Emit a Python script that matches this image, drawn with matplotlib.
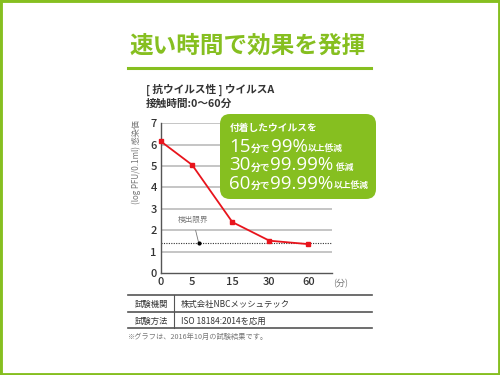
import matplotlib
matplotlib.use("Agg")
import matplotlib.pyplot as plt
from matplotlib.patches import FancyBboxPatch, Rectangle
from matplotlib.lines import Line2D

plt.rcParams['font.family'] = ['Noto Sans CJK JP', 'DejaVu Sans']

# ---- data ----
time_labels = ["0", "5", "15", "30", "60"]
log_titer = [6.15, 5.05, 2.38, 1.51, 1.35]
detection_limit = 1.38
y_ticks = [0, 1, 2, 3, 4, 5, 6, 7]
title = "速い時間で効果を発揮"
subtitle1 = "[ 抗ウイルス性 ] ウイルスA"
subtitle2 = "接触時間:0～60分"
ylabel = "(log PFU/0.1ml) 感染価"
unit_label = "(分)"
limit_label = "検出限界"
box_head = "付着したウイルスを"
box_lines = [
    [("15", 'big'), ("分で", 'mid'), ("99%", 'big'), ("以上低減", 'small')],
    [("30", 'big'), ("分で", 'mid'), ("99.99%", 'big'), (" 低減", 'small')],
    [("60", 'big'), ("分で", 'mid'), ("99.99%", 'big'), ("以上低減", 'small')],
]
table_rows = [("試験機関", "株式会社NBCメッシュテック"),
              ("試験方法", "ISO 18184:2014を応用")]
footnote = "※グラフは、2016年10月の試験結果です。"

# layout positions (category spacing)
x_pos = [0, 0.8, 1.83, 2.78, 3.78]

GREEN = '#86bf20'
RED = '#e8141c'
DARK = '#333333'

W, H = 500, 375
fig = plt.figure(figsize=(5, 3.75), dpi=100)


def fx(px):
    return px / W


def fy(py):
    return 1 - py / H


# frame
fig.patches.append(Rectangle((0, 0), 1, 1, transform=fig.transFigure,
                             fill=False, edgecolor=GREEN, linewidth=3.5))

# title
fig.text(fx(248), fy(46), title, fontsize=17, fontweight='bold', color=GREEN,
         ha='center', va='center')
fig.add_artist(Line2D([fx(128), fx(371)], [fy(68), fy(68)], color=GREEN,
                      linewidth=2.2, transform=fig.transFigure))

fig.text(fx(146), fy(90), subtitle1, fontsize=7.7, color=DARK, fontweight='bold',
         ha='left', va='center')
fig.text(fx(146), fy(104), subtitle2, fontsize=7.7, color=DARK, fontweight='bold',
         ha='left', va='center')

# axes
ax = fig.add_axes([fx(161), fy(273), fx(332) - fx(161), fy(123.3) - fy(273)])
ax.set_xlim(0, (332 - 161) / 39.0)
ax.set_ylim(0, 7)
for s in ['top', 'right']:
    ax.spines[s].set_visible(False)
ax.spines['left'].set_color('#555555')
ax.spines['bottom'].set_color('#555555')
ax.spines['left'].set_linewidth(1.0)
ax.spines['bottom'].set_linewidth(1.0)
ax.set_yticks(y_ticks)
ax.set_yticklabels([str(v) for v in y_ticks], fontsize=8, color=DARK,
                   fontweight='medium')
ax.set_xticks(x_pos)
ax.set_xticklabels(time_labels, fontsize=8, color=DARK, fontweight='medium')
ax.tick_params(length=0, pad=3)
for v in y_ticks[1:]:
    ax.axhline(v, color='#c0c0c0', linewidth=1.3, zorder=1)
ax.set_ylabel(ylabel, fontsize=5.8, color='#777777')
ax.yaxis.set_label_coords(-0.115, 0.74)
ax.text(1.05, -0.07, unit_label, transform=ax.transAxes, fontsize=6.5,
        color='#777777', ha='center', va='center')

# detection limit
ax.axhline(detection_limit, color='#333333', linewidth=0.8, linestyle=(0, (1, 1.2)),
           zorder=2)
ax.plot([0.97], [detection_limit], 'o', color='black', markersize=2, zorder=4)
ax.annotate(limit_label, xy=(0.97, detection_limit), xytext=(0.82, 2.5),
            fontsize=5.5, color='#777777', ha='center', va='center',
            arrowprops=dict(arrowstyle='-', color='#777777', linewidth=0.6,
                            shrinkA=3, shrinkB=1))

# data line
ax.plot(x_pos, log_titer, color=RED, linewidth=1.3, marker='s', markersize=3,
        zorder=5, clip_on=False)

# green box
box = FancyBboxPatch((fx(220), fy(199)), fx(376) - fx(220), fy(114) - fy(199),
                     boxstyle="round,pad=0,rounding_size=0.02",
                     transform=fig.transFigure, facecolor=GREEN, edgecolor='none',
                     mutation_aspect=W / H)
fig.patches.append(box)

fig.text(fx(230), fy(128), box_head, fontsize=7, color='white', fontweight='bold',
         ha='left', va='center')

sizes = {'big': 13.5, 'mid': 7, 'small': 6.3}
line_y = [152, 170.5, 189]
renderer = fig.canvas.get_renderer()
for parts, py in zip(box_lines, line_y):
    x_px = 229.0
    for txt, kind in parts:
        if kind == 'big':
            t = fig.text(fx(x_px), fy(py), txt, fontsize=sizes[kind], color='white',
                         ha='left', va='baseline', family=['Open Sans', 'DejaVu Sans'],
                         fontweight='normal')
        else:
            t = fig.text(fx(x_px), fy(py), txt, fontsize=sizes[kind], color='white',
                         ha='left', va='baseline', fontweight='bold')
        ext = t.get_window_extent(renderer=renderer)
        x_px += ext.width + 0.3

# table
tl = fig.transFigure
for py in [295, 312, 328]:
    fig.add_artist(Line2D([fx(128), fx(372)], [fy(py), fy(py)], color='#555555',
                          linewidth=1.2, transform=tl))
fig.add_artist(Line2D([fx(174), fx(174)], [fy(295), fy(328)], color='#555555',
                      linewidth=0.8, transform=tl))
for (k, v), py in zip(table_rows, [304, 321]):
    fig.text(fx(151), fy(py), k, fontsize=6, color=DARK, ha='center', va='center')
    fig.text(fx(181), fy(py), v, fontsize=6, color=DARK, ha='left', va='center')
fig.text(fx(128), fy(337), footnote, fontsize=5.2, color='#777777', ha='left',
         va='center')

fig.savefig("out.png", dpi=100)
